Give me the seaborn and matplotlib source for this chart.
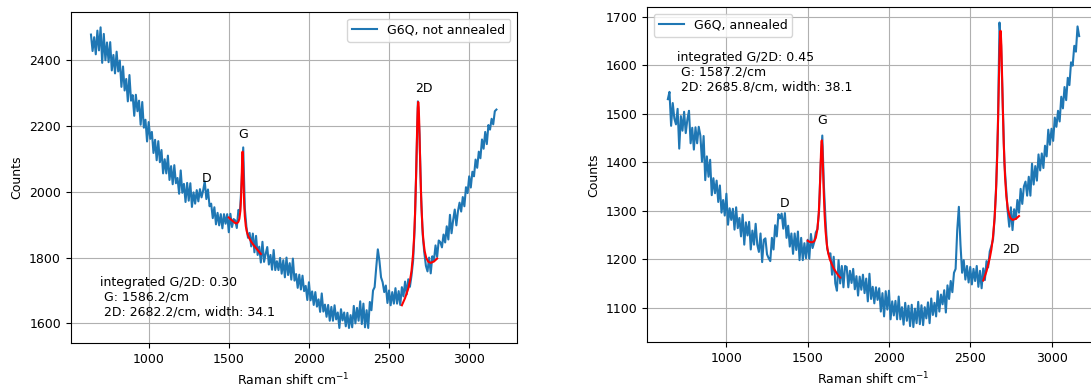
import numpy as np
import matplotlib
matplotlib.use("Agg")
import matplotlib.pyplot as plt
import seaborn as sns

plt.rcParams["font.size"] = 9

# Raman shift axis, 10 cm^-1 steps (640 .. 3170)
shift = np.arange(640, 3171, 10)

# G6Q, not annealed (counts)
counts_raw = [
    2478, 2428, 2470, 2418, 2490, 2430, 2500, 2392, 2480, 2400,
    2454, 2394, 2455, 2369, 2416, 2360, 2426, 2366, 2399, 2319,
    2381, 2308, 2343, 2275, 2355, 2277, 2294, 2231, 2295, 2245,
    2277, 2204, 2273, 2195, 2219, 2153, 2212, 2161, 2182, 2118,
    2158, 2096, 2154, 2090, 2127, 2056, 2099, 2056, 2110, 2036,
    2078, 2023, 2081, 2026, 2042, 1994, 2065, 1997, 2024, 1969,
    2027, 1973, 2026, 1954, 1998, 1964, 2005, 1971, 2008, 1983,
    2004, 2032, 1978, 2007, 1956, 1964, 1920, 1953, 1901, 1936,
    1898, 1932, 1889, 1932, 1903, 1932, 1877, 1933, 1893, 1917,
    1913, 1890, 1945, 1940, 2030, 2135, 1950, 1893, 1860, 1875,
    1834, 1873, 1816, 1866, 1808, 1833, 1785, 1848, 1787, 1811,
    1832, 1779, 1808, 1763, 1823, 1762, 1789, 1762, 1799, 1751,
    1792, 1740, 1800, 1747, 1783, 1733, 1797, 1730, 1750, 1708,
    1748, 1703, 1745, 1698, 1714, 1671, 1725, 1670, 1697, 1656,
    1695, 1651, 1673, 1635, 1691, 1636, 1657, 1620, 1656, 1608,
    1650, 1608, 1655, 1612, 1633, 1586, 1643, 1609, 1633, 1591,
    1632, 1586, 1625, 1588, 1653, 1600, 1647, 1608, 1667, 1598,
    1660, 1588, 1640, 1586, 1665, 1640, 1700, 1710, 1770, 1825,
    1790, 1740, 1725, 1695, 1715, 1662, 1700, 1655, 1695, 1660,
    1707, 1660, 1698, 1656, 1710, 1682, 1727, 1688, 1734, 1711,
    1745, 1790, 1890, 2070, 2275, 2175, 1985, 1870, 1815, 1775,
    1758, 1800, 1752, 1804, 1791, 1837, 1802, 1852, 1847, 1831,
    1870, 1846, 1895, 1855, 1930, 1874, 1914, 1946, 1898, 1941,
    1967, 1940, 1984, 1956, 2014, 1996, 2047, 2013, 2061, 2047,
    2098, 2073, 2122, 2102, 2159, 2131, 2182, 2145, 2203, 2189,
    2222, 2205, 2245, 2250,
]

# G6Q, annealed
counts_ann = [
    1530, 1545, 1475, 1522, 1490, 1478, 1510, 1428, 1495, 1465,
    1504, 1460, 1488, 1506, 1439, 1471, 1426, 1472, 1439, 1473,
    1455, 1401, 1454, 1363, 1412, 1370, 1405, 1332, 1367, 1336,
    1362, 1318, 1352, 1296, 1322, 1290, 1335, 1271, 1305, 1281,
    1304, 1261, 1307, 1264, 1285, 1247, 1292, 1230, 1276, 1249,
    1277, 1220, 1259, 1230, 1273, 1230, 1215, 1253, 1194, 1240,
    1243, 1210, 1202, 1196, 1244, 1220, 1270, 1247, 1293, 1284,
    1294, 1263, 1295, 1244, 1269, 1226, 1253, 1211, 1253, 1219,
    1257, 1198, 1244, 1198, 1233, 1202, 1240, 1201, 1252, 1223,
    1235, 1255, 1262, 1300, 1395, 1455, 1350, 1280, 1222, 1210,
    1212, 1168, 1205, 1150, 1135, 1198, 1150, 1186, 1142, 1186,
    1184, 1142, 1176, 1151, 1180, 1138, 1165, 1125, 1164, 1137,
    1168, 1130, 1160, 1113, 1170, 1118, 1143, 1109, 1142, 1116,
    1140, 1092, 1130, 1082, 1134, 1096, 1135, 1076, 1113, 1084,
    1114, 1076, 1123, 1076, 1101, 1065, 1110, 1073, 1104, 1062,
    1106, 1060, 1098, 1068, 1112, 1066, 1105, 1064, 1101, 1078,
    1111, 1068, 1119, 1085, 1110, 1082, 1134, 1092, 1127, 1107,
    1136, 1090, 1146, 1118, 1155, 1132, 1172, 1180, 1260, 1308,
    1230, 1172, 1198, 1158, 1186, 1152, 1184, 1148, 1180, 1155,
    1186, 1143, 1176, 1140, 1181, 1157, 1196, 1183, 1216, 1227,
    1240, 1285, 1355, 1470, 1688, 1640, 1520, 1400, 1350, 1300,
    1267, 1307, 1260, 1303, 1283, 1322, 1296, 1345, 1314, 1350,
    1360, 1331, 1370, 1331, 1397, 1354, 1392, 1362, 1416, 1383,
    1418, 1388, 1434, 1412, 1467, 1436, 1469, 1444, 1492, 1473,
    1506, 1484, 1535, 1511, 1555, 1528, 1574, 1559, 1606, 1599,
    1640, 1628, 1680, 1660,
]

# fitted peaks (red)
g_x_raw = [1500, 1510, 1520, 1530, 1540, 1550, 1560, 1566, 1572, 1576, 1580, 1583, 1586,
           1589, 1592, 1596, 1600, 1606, 1612, 1620, 1630, 1640, 1650, 1660, 1670, 1680, 1690, 1700]
g_y_raw = [1922, 1917, 1913, 1909, 1905, 1904, 1909, 1918, 1941, 1975, 2035, 2092, 2122,
           2089, 2028, 1964, 1926, 1896, 1880, 1867, 1857, 1848, 1841, 1835, 1829, 1823, 1817, 1811]
d2_x_raw = [2580, 2600, 2620, 2630, 2640, 2650, 2656, 2662, 2668, 2672, 2676, 2679, 2682,
            2685, 2688, 2692, 2696, 2702, 2708, 2714, 2722, 2732, 2745, 2760, 2780, 2800]
d2_y_raw = [1655, 1677, 1706, 1728, 1759, 1811, 1860, 1931, 2035, 2121, 2207, 2254, 2273,
            2258, 2215, 2134, 2054, 1958, 1894, 1853, 1820, 1799, 1787, 1784, 1788, 1797]

g_x_ann = [1500, 1510, 1520, 1530, 1540, 1550, 1560, 1568, 1574, 1578, 1582, 1585, 1587,
           1590, 1594, 1598, 1604, 1610, 1618, 1626, 1636, 1648, 1660, 1675, 1690, 1700]
g_y_ann = [1238, 1236, 1235, 1235, 1237, 1244, 1262, 1293, 1336, 1377, 1419, 1441, 1445,
           1433, 1393, 1347, 1293, 1258, 1230, 1213, 1200, 1190, 1181, 1173, 1166, 1162]
d2_x_ann = [2580, 2600, 2620, 2630, 2640, 2650, 2658, 2666, 2672, 2677, 2681, 2684, 2686,
            2688, 2691, 2695, 2700, 2706, 2714, 2722, 2732, 2745, 2760, 2780, 2800]
d2_y_ann = [1156, 1175, 1202, 1220, 1246, 1286, 1336, 1414, 1499, 1580, 1637, 1664, 1671,
            1667, 1644, 1591, 1516, 1439, 1370, 1330, 1302, 1286, 1281, 1283, 1289]

info_raw = "integrated G/2D: 0.30\n G: 1586.2/cm\n 2D: 2682.2/cm, width: 34.1"
info_ann = "integrated G/2D: 0.45\n G: 1587.2/cm\n 2D: 2685.8/cm, width: 38.1"

fig = plt.figure(figsize=(10.91, 3.87), dpi=100)
ax1 = fig.add_axes([0.0648, 0.1137, 0.4088, 0.8545])
ax2 = fig.add_axes([0.5933, 0.1155, 0.4147, 0.8656])

# --- left: not annealed
sns.lineplot(x=shift, y=counts_raw, ax=ax1, color="C0", label="G6Q, not annealed")
sns.lineplot(x=g_x_raw, y=g_y_raw, ax=ax1, color="red")
sns.lineplot(x=d2_x_raw, y=d2_y_raw, ax=ax1, color="red")
ax1.text(1360, 2040, "D", ha="center", va="center")
ax1.text(1589, 2175, "G", ha="center", va="center")
ax1.text(2717, 2315, "2D", ha="center", va="center")
ax1.text(695, 1745, info_raw, va="top")
ax1.legend(loc="upper right")

# --- right: annealed
sns.lineplot(x=shift, y=counts_ann, ax=ax2, color="C0", label="G6Q, annealed")
sns.lineplot(x=g_x_ann, y=g_y_ann, ax=ax2, color="red")
sns.lineplot(x=d2_x_ann, y=d2_y_ann, ax=ax2, color="red")
ax2.text(1359, 1315, "D", ha="center", va="center")
ax2.text(1589, 1487, "G", ha="center", va="center")
ax2.text(2748, 1220, "2D", ha="center", va="center")
ax2.text(695, 1630, info_ann, va="top")
ax2.legend(loc="upper left")

for ax in (ax1, ax2):
    ax.set_xlabel("Raman shift cm$^{-1}$")
    ax.set_ylabel("Counts")
    ax.grid(True)

fig.savefig("out.png", dpi=100)
